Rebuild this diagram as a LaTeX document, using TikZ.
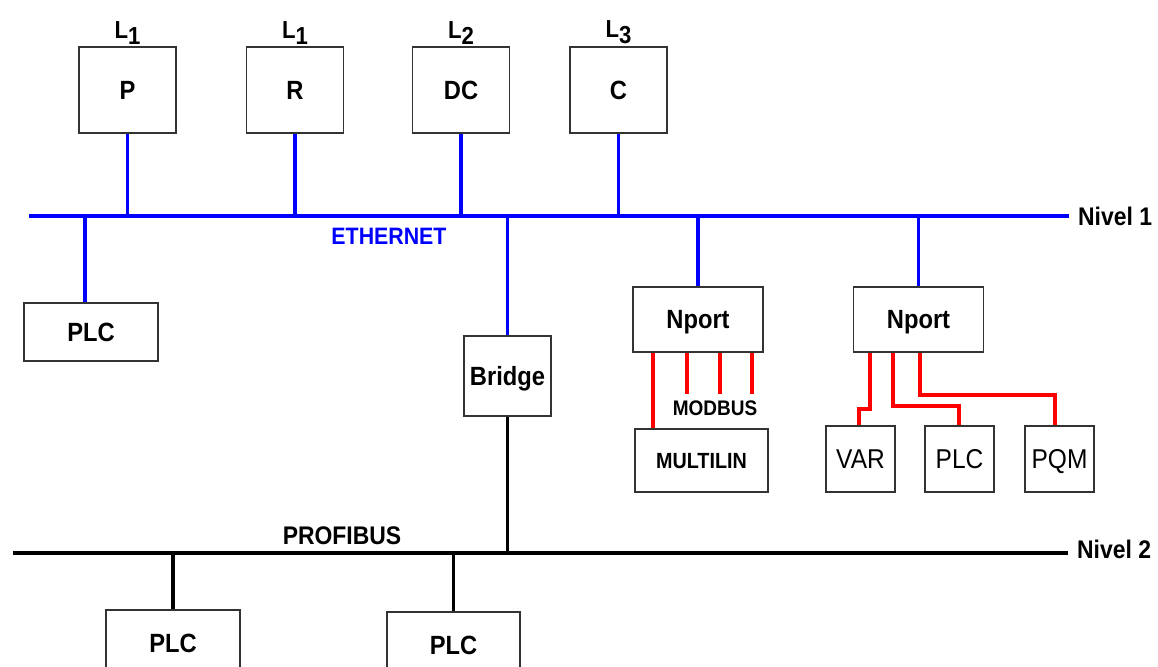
\documentclass[tikz,border=0pt]{standalone}
\usepackage{fontspec}
\setmainfont{Liberation Sans}[FakeStretch=0.9]
\usetikzlibrary{positioning}

\begin{document}
\begin{tikzpicture}[x=0.02cm, y=-0.02cm,
    box/.style={draw=black!80, line width=1pt, inner sep=0, text depth=0pt,
                font=\bfseries\fontsize{15}{17}\selectfont},
    eth/.style={blue, line width=2pt},
    prof/.style={black, line width=2pt},
    mod/.style={red, line width=2pt},
    lvl/.style={inner sep=0, font=\bfseries\fontsize{14.5}{16}\selectfont}]
  \useasboundingbox (0,0) rectangle (1158,666);
  \def\bw{1.94cm}\def\bh{1.72cm}
  %% Nivel 1: ETHERNET bus
  \coordinate (eW) at (29,216);
  \coordinate (eE) at (1069,216);
  \draw[eth] (eW) -- (eE);
  \node[lvl, right=5pt of eE] (niv1) {Nivel 1};
  \node[lvl, blue, font=\bfseries\fontsize{13.5}{15}\selectfont] (ethlbl) at (389,236) {ETHERNET};
  %% Top row: P R DC C
  \foreach \nm/\txt/\lv/\x in {p/P/1/127.5, r/R/1/295, dc/DC/2/461, c/C/3/618.5}{
    \node[box, minimum width=\bw, minimum height=\bh] (\nm) at (\x,90) {\txt};
    \node[inner sep=0, font=\bfseries\fontsize{14}{16}\selectfont, above=1pt of \nm]
      (\nm lv) {L\raisebox{-0.45ex}{\lv}};
    \draw[eth] (\nm.south) -- (\nm.south |- eW);
  }
  %% Left PLC
  \node[box, minimum width=2.68cm, minimum height=1.16cm] (plcA) at (91,332) {PLC};
  \coordinate (tA) at (85,216);
  \draw[eth] (tA) -- (tA |- plcA.north);
  %% Bridge
  \node[box, minimum width=1.74cm, minimum height=1.6cm] (bridge) at (507.5,376) {Bridge};
  \draw[eth] (bridge.north |- eW) -- (bridge.north);
  %% Nport gateways
  \node[box, minimum width=2.6cm, minimum height=1.3cm] (nA) at (698,319.5) {Nport};
  \node[box, minimum width=2.6cm, minimum height=1.3cm] (nB) at (918.5,319.5) {Nport};
  \draw[eth] (nA.north |- eW) -- (nA.north);
  \draw[eth] (nB.north |- eW) -- (nB.north);
  %% MODBUS side
  \node[box, minimum width=2.66cm, minimum height=1.26cm,
        font=\bfseries\fontsize{12.5}{14}\selectfont] (ml) at (701.5,460.5) {MULTILIN};
  \coordinate (mlx) at (653,429);
  \draw[mod] (mlx |- nA.south) -- (mlx |- ml.north);
  \foreach \x [count=\k] in {687,720,752}{
    \coordinate (mb\k) at (\x,394);
    \draw[mod] (mb\k |- nA.south) -- (mb\k);
  }
  \node[lvl, font=\bfseries\fontsize{12}{14}\selectfont] (modbus) at (715,408) {MODBUS};
  %% Devices under second Nport
  \foreach \nm/\txt/\x in {var/VAR/860.5, plcR/PLC/959.5, pqm/PQM/1059.5}{
    \node[box, minimum width=1.38cm, minimum height=1.32cm,
          font=\fontsize{15.5}{17}\selectfont] (\nm) at (\x,459) {\txt};
  }
  \foreach \tgt/\xa/\ya/\xb in {var/870/409/859, plcR/893/406/959, pqm/920/395/1055}{
    \coordinate (a\tgt) at (\xa,\ya);
    \coordinate (b\tgt) at (\xb,\ya);
    \draw[mod] (a\tgt |- nB.south) -- (a\tgt) -- (b\tgt) -- (b\tgt |- \tgt.north);
  }
  %% Nivel 2: PROFIBUS bus
  \coordinate (pW) at (13,553);
  \coordinate (pE) at (1068,553);
  \draw[prof] (pW) -- (pE);
  \node[lvl, right=5pt of pE, yshift=2pt] (niv2) {Nivel 2};
  \node[lvl] (proflbl) at (342,536) {PROFIBUS};
  \draw[prof] (bridge.south) -- (bridge.south |- pW);
  %% Lower PLCs (cut by the page edge)
  \node[box, minimum width=2.68cm, minimum height=1.32cm] (plcB) at (173,643) {PLC};
  \node[box, minimum width=2.66cm, minimum height=1.32cm] (plcC) at (453.5,645) {PLC};
  \draw[prof] (plcB.north |- pW) -- (plcB.north);
  \draw[prof] (plcC.north |- pW) -- (plcC.north);
\end{tikzpicture}
\end{document}
